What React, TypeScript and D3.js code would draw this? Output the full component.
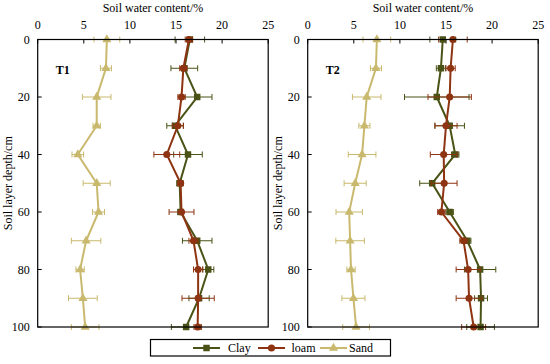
import { line, scaleLinear, symbol, symbolCircle, symbolSquare, symbolTriangle } from "d3";

const W = 550;
const H = 364;

const depths = [0, 10, 20, 30, 40, 50, 60, 70, 80, 90, 100];
const xTicks = [0, 5, 10, 15, 20, 25];
const yTicks = [0, 20, 40, 60, 80, 100];

// T1 panel
const t1Clay = [16.5, 15.9, 17.3, 14.9, 16.3, 15.4, 15.5, 17.3, 18.5, 17.5, 16.1];
const t1ClayErr = [1.6, 1.45, 1.6, 0.9, 1.55, 0.3, 0.3, 1.6, 0.6, 1.1, 1.6];
const t1Loam = [16.4, 15.8, 15.6, 15.2, 14.0, 15.5, 15.6, 16.9, 17.4, 17.4, 17.35];
const t1LoamErr = [0.4, 0.4, 0.4, 0.6, 1.4, 0.3, 1.35, 0.5, 0.5, 1.75, 0.4];
const t1Sand = [7.5, 7.4, 6.4, 6.4, 4.35, 6.4, 6.6, 5.25, 4.6, 4.9, 5.15];
const t1SandErr = [1.4, 0.6, 1.55, 0.4, 0.63, 1.47, 0.65, 1.6, 0.45, 1.56, 1.5];

// T2 panel
const t2Clay = [14.65, 14.45, 14.0, 15.4, 16.0, 13.5, 15.4, 17.3, 18.7, 18.8, 18.75];
const t2ClayErr = [1.4, 0.5, 3.5, 1.6, 0.4, 1.35, 0.4, 0.4, 1.7, 0.7, 1.5];
const t2Loam = [15.75, 15.5, 15.4, 15.0, 14.75, 14.8, 14.5, 16.9, 17.4, 17.5, 18.0];
const t2LoamErr = [1.55, 0.5, 2.35, 1.2, 1.45, 1.4, 0.4, 0.4, 1.3, 1.4, 1.3];
const t2Sand = [7.5, 7.4, 6.4, 6.15, 5.9, 5.15, 4.5, 4.6, 4.7, 4.96, 5.25];
const t2SandErr = [1.5, 0.6, 1.55, 0.6, 1.5, 1.2, 1.43, 1.55, 0.45, 1.25, 1.45];

const CLAY = "#4a5216";
const LOAM = "#8e3412";
const SAND = "#c9b96e";
const FONT = "Liberation Serif, Times New Roman, DejaVu Serif, serif";

type Series = { name: string; color: string; values: number[]; err: number[]; shape: "square" | "circle" | "triangle" };

const markerPath = (shape: Series["shape"]) => {
  if (shape === "square") return symbol(symbolSquare, 42)() ?? "";
  if (shape === "circle") return symbol(symbolCircle, 40)() ?? "";
  return symbol(symbolTriangle, 36)() ?? "";
};

function Panel({ left, label, series }: { left: number; label: string; series: Series[] }) {
  const top = 39.5;
  const bottom = 327;
  const right = left + 230.5;
  const x = scaleLinear().domain([0, 25]).range([left, right]);
  const y = scaleLinear().domain([0, 100]).range([top, bottom]);
  const mk = (vals: number[]) =>
    line<number>()
      .x((v) => x(v))
      .y((_, i) => y(depths[i]))(vals) ?? "";
  return (
    <g>
      <text x={(left + right) / 2} y={12} textAnchor="middle" fontSize={12} fill="#000">
        Soil water content/%
      </text>
      {xTicks.map((t) => (
        <g key={`x${t}`}>
          <text x={x(t)} y={29} textAnchor="middle" fontSize={12} fill="#000">
            {t}
          </text>
          <line x1={x(t)} x2={x(t)} y1={top} y2={top + 4} stroke="#000" />
        </g>
      ))}
      {yTicks.map((t) => (
        <g key={`y${t}`}>
          <text x={left - 8} y={y(t)} dy="0.35em" textAnchor="end" fontSize={12} fill="#000">
            {t}
          </text>
          <line x1={left} x2={left + 4} y1={y(t)} y2={y(t)} stroke="#000" />
        </g>
      ))}
      <text
        transform={`translate(${left - 26},${(top + bottom) / 2}) rotate(-90)`}
        textAnchor="middle"
        fontSize={12}
        fill="#000"
      >
        Soil layer depth/cm
      </text>
      <text x={left + 18} y={y(12)} fontSize={12} fontWeight="bold" fill="#000">
        {label}
      </text>
      {series.map((s) => (
        <g key={s.name}>
          {s.values.map((v, i) => (
            <g key={i} stroke={s.color} strokeWidth={1}>
              <line x1={x(v - s.err[i])} x2={x(v + s.err[i])} y1={y(depths[i])} y2={y(depths[i])} />
              <line x1={x(v - s.err[i])} x2={x(v - s.err[i])} y1={y(depths[i]) - 3} y2={y(depths[i]) + 3} />
              <line x1={x(v + s.err[i])} x2={x(v + s.err[i])} y1={y(depths[i]) - 3} y2={y(depths[i]) + 3} />
            </g>
          ))}
          <path d={mk(s.values)} fill="none" stroke={s.color} strokeWidth={2} />
          {s.values.map((v, i) => (
            <path
              key={`m${i}`}
              d={markerPath(s.shape)}
              transform={`translate(${x(v)},${y(depths[i])})`}
              fill={s.color}
            />
          ))}
        </g>
      ))}
      <rect x={left} y={top} width={right - left} height={bottom - top} fill="none" stroke="#000" strokeWidth={1.2} />
    </g>
  );
}

export default function App() {
  const t1: Series[] = [
    { name: "Sand", color: SAND, values: t1Sand, err: t1SandErr, shape: "triangle" },
    { name: "Clay", color: CLAY, values: t1Clay, err: t1ClayErr, shape: "square" },
    { name: "loam", color: LOAM, values: t1Loam, err: t1LoamErr, shape: "circle" },
  ];
  const t2: Series[] = [
    { name: "Sand", color: SAND, values: t2Sand, err: t2SandErr, shape: "triangle" },
    { name: "Clay", color: CLAY, values: t2Clay, err: t2ClayErr, shape: "square" },
    { name: "loam", color: LOAM, values: t2Loam, err: t2LoamErr, shape: "circle" },
  ];
  const legend = [
    { name: "Clay", color: CLAY, shape: "square" as const, x0: 193, tx: 228 },
    { name: "loam", color: LOAM, shape: "circle" as const, x0: 258, tx: 291.5 },
    { name: "Sand", color: SAND, shape: "triangle" as const, x0: 320, tx: 349 },
  ];
  return (
    <svg
      width={W}
      height={H}
      style={{ position: "absolute", left: 0, top: 0, fontFamily: FONT }}
    >
      <rect width={W} height={H} fill="#fff" />
      <Panel left={37.7} label="T1" series={t1} />
      <Panel left={307.7} label="T2" series={t2} />
      <g>
        <rect x={150.5} y={339.5} width={240} height={16.5} fill="#fff" stroke="#000" strokeWidth={1.2} />
        {legend.map((l) => (
          <g key={l.name}>
            <line x1={l.x0} x2={l.x0 + 27} y1={348} y2={348} stroke={l.color} strokeWidth={2} />
            <path d={markerPath(l.shape)} transform={`translate(${l.x0 + 13.5},348)`} fill={l.color} />
            <text x={l.tx} y={348} dy="0.35em" fontSize={12} fill="#000">
              {l.name}
            </text>
          </g>
        ))}
      </g>
    </svg>
  );
}
